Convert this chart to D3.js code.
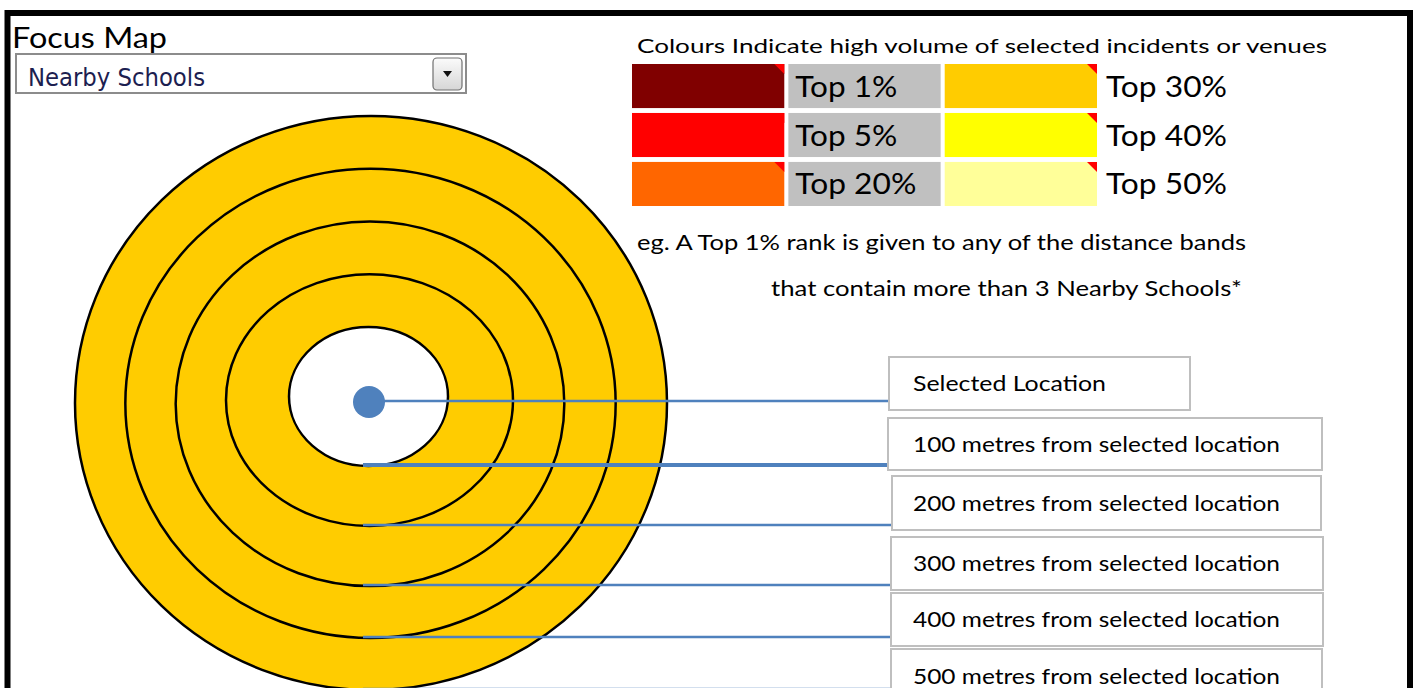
<!DOCTYPE html>
<html>
<head>
<meta charset="utf-8">
<script src="https://cdn.jsdelivr.net/npm/d3@7"></script>
<style>
  body { margin: 0; background: #fff; }
  svg { display: block; font-family: Lato, "Open Sans", sans-serif; }
</style>
</head>
<body>
<svg width="1421" height="688"></svg>
<script>
// data
var focusTitle = "Focus Map";
var focusChoice = "Nearby Schools";
var legendTitle = "Colours Indicate high volume of selected incidents or venues";
var rankLabels = ["Top 1%", "Top 5%", "Top 20%", "Top 30%", "Top 40%", "Top 50%"];
var rankColours = ["#800000", "#FF0000", "#FF6600", "#FFCC00", "#FFFF00", "#FFFF99"];
var threshold = 3;
var distances = [100, 200, 300, 400, 500];          // metres, distance bands
var bandRanks = ["Top 30%", "Top 30%", "Top 30%", "Top 30%", "Top 30%"];
var labelTexts = ["Selected Location"].concat(distances.map(function(d) {
    return d + " metres from selected location"; }));

var svg = d3.select("svg");
var rankColour = d3.scaleOrdinal().domain(rankLabels).range(rankColours);

// ellipse edges per distance band
var leftX = d3.scaleLinear().domain([100, 200, 500]).range([289, 226, 75]);
var rightX = d3.scaleLinear().domain([100, 200, 500]).range([448, 513, 667]);
var topY = d3.scaleLinear().domain([100, 500]).range([327, 116]);
var bottomY = d3.scaleLinear().domain([100, 300, 500]).range([466, 586, 690]);

// frame
svg.append("rect")
    .attr("x", 7.5).attr("y", 13)
    .attr("width", 1402.5).attr("height", 800)
    .style("fill", "none").style("stroke", "#000").style("stroke-width", 6);

// focus selector
svg.append("text").attr("x", 12).attr("y", 48)
    .attr("font-size", "28px").attr("textLength", 155).attr("lengthAdjust", "spacingAndGlyphs")
    .attr("fill", "#000").text(focusTitle);
svg.append("rect").attr("x", 16).attr("y", 54).attr("width", 450).attr("height", 39)
    .style("fill", "#fff").style("stroke", "#8c8c8c").style("stroke-width", 2);
svg.append("text").attr("x", 28).attr("y", 86)
    .attr("font-family", "'DejaVu Sans', sans-serif")
    .attr("font-size", "24px").attr("textLength", 177).attr("lengthAdjust", "spacingAndGlyphs")
    .attr("fill", "#1c2050").text(focusChoice);
var grad = svg.append("defs").append("linearGradient").attr("id", "btn")
    .attr("x1", 0).attr("y1", 0).attr("x2", 0).attr("y2", 1);
grad.append("stop").attr("offset", "0%").attr("stop-color", "#fbfbfb");
grad.append("stop").attr("offset", "100%").attr("stop-color", "#d6d6d6");
svg.append("rect").attr("x", 433).attr("y", 58).attr("width", 29).attr("height", 32)
    .attr("rx", 4).style("fill", "url(#btn)").style("stroke", "#707070").style("stroke-width", 1.2);
svg.append("path").attr("d", "M443,71 L452,71 L447.5,77 Z").style("fill", "#111");

// legend
svg.append("text").attr("x", 637).attr("y", 53)
    .attr("font-size", "20px").attr("textLength", 690).attr("lengthAdjust", "spacingAndGlyphs")
    .attr("fill", "#000").text(legendTitle);

var rowScale = d3.scaleBand().domain([0, 1, 2]).range([64, 206]).paddingInner(0.1);
var colScale = d3.scaleBand().domain([0, 1, 2]).range([632, 1097]).paddingInner(0.026);

var legendItems = rankLabels.map(function(r, i) {
    return { label: r, colour: rankColour(r), row: i % 3, col: i < 3 ? 0 : 2 }; });

var cells = svg.append("g").selectAll("g")
    .data(legendItems)
    .enter().append("g");

cells.append("rect")
    .attr("x", function(d) { return colScale(d.col); })
    .attr("y", function(d) { return rowScale(d.row); })
    .attr("width", colScale.bandwidth())
    .attr("height", rowScale.bandwidth())
    .style("fill", function(d) { return d.colour; });

cells.append("path")
    .attr("d", function(d) {
        var x = colScale(d.col) + colScale.bandwidth(), y = rowScale(d.row);
        return "M" + (x - 10) + "," + y + "L" + x + "," + y + "L" + x + "," + (y + 10) + "Z"; })
    .style("fill", "#FF0000");

// grey label cells for the left column
cells.filter(function(d) { return d.col === 0; }).append("rect")
    .attr("x", colScale(1))
    .attr("y", function(d) { return rowScale(d.row); })
    .attr("width", colScale.bandwidth())
    .attr("height", rowScale.bandwidth())
    .style("fill", "#C0C0C0");

cells.append("text")
    .attr("x", function(d) { return d.col === 0 ? colScale(1) + 7 : colScale(2) + colScale.bandwidth() + 9; })
    .attr("y", function(d) { return rowScale(d.row) + rowScale.bandwidth() / 2 + 10.5; })
    .attr("font-size", "29px")
    .attr("textLength", function(d) { return d.label.length > 6 ? 121 : 102; })
    .attr("lengthAdjust", "spacingAndGlyphs")
    .attr("fill", "#000")
    .text(function(d) { return d.label; });

svg.append("text").attr("x", 637).attr("y", 250)
    .attr("font-size", "21px").attr("textLength", 609).attr("lengthAdjust", "spacingAndGlyphs")
    .text("eg. A " + rankLabels[0] + " rank is given to any of the distance bands");
svg.append("text").attr("x", 771).attr("y", 296)
    .attr("font-size", "21px").attr("textLength", 471).attr("lengthAdjust", "spacingAndGlyphs")
    .text("that contain more than " + threshold + " " + focusChoice + "*");

// rings, outermost first
var rings = distances.slice().reverse();
svg.append("g").selectAll("ellipse")
    .data(rings)
    .enter().append("ellipse")
    .attr("cx", function(d) { return (leftX(d) + rightX(d)) / 2; })
    .attr("cy", function(d) { return (topY(d) + bottomY(d)) / 2; })
    .attr("rx", function(d) { return (rightX(d) - leftX(d)) / 2; })
    .attr("ry", function(d) { return (bottomY(d) - topY(d)) / 2; })
    .style("fill", function(d, i) {
        return d === distances[0] ? "#fff" : rankColour(bandRanks[distances.indexOf(d) - 1]); })
    .style("stroke", "#000")
    .style("stroke-width", 2.5);

// label boxes (layout)
var boxTop = [357, 418, 476, 537, 593, 649];
var boxBottom = [410, 470, 530, 590, 646, 703];
var boxLeft = [889, 888, 892, 891, 891, 891];
var boxRight = [1190, 1322, 1321, 1323, 1323, 1322];

var centreX = (leftX(100) + rightX(100)) / 2;
var dotY = 402;

// leader lines
var leaders = [{ x1: centreX, y: 401, w: 2.5 }].concat(distances.map(function(d, i) {
    return { x1: 363, y: bottomY(d) - 1, w: i === 0 ? 4 : 2.5 }; }));
svg.append("g").selectAll("line")
    .data(leaders)
    .enter().append("line")
    .attr("x1", function(d) { return d.x1; })
    .attr("x2", function(d, i) { return boxLeft[i]; })
    .attr("y1", function(d) { return d.y; })
    .attr("y2", function(d) { return d.y; })
    .style("stroke", "#4F81BD")
    .style("stroke-width", function(d) { return d.w; });

svg.append("circle").attr("cx", centreX + 0.5).attr("cy", dotY).attr("r", 16)
    .style("fill", "#4F81BD");

var boxes = svg.append("g").selectAll("g")
    .data(labelTexts)
    .enter().append("g");

boxes.append("rect")
    .attr("x", function(d, i) { return boxLeft[i]; })
    .attr("y", function(d, i) { return boxTop[i]; })
    .attr("width", function(d, i) { return boxRight[i] - boxLeft[i]; })
    .attr("height", function(d, i) { return boxBottom[i] - boxTop[i]; })
    .style("fill", "#fff")
    .style("stroke", "#BFBFBF")
    .style("stroke-width", 2);

boxes.append("text")
    .attr("x", 913)
    .attr("y", function(d, i) { return (boxTop[i] + boxBottom[i]) / 2 + 7.5; })
    .attr("font-size", "21px")
    .attr("textLength", function(d, i) { return i === 0 ? 193 : 367; })
    .attr("lengthAdjust", "spacingAndGlyphs")
    .attr("fill", "#000")
    .text(function(d) { return d; });
</script>
</body>
</html>
